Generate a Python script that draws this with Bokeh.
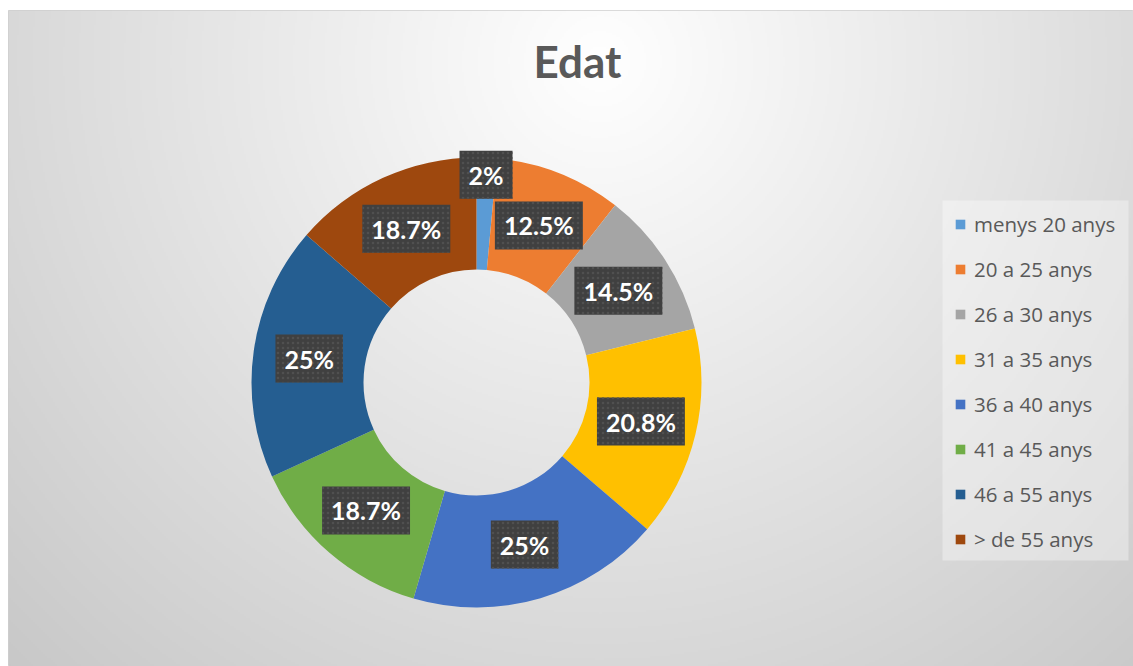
import numpy as np
from bokeh.plotting import figure
from bokeh.models import ColumnDataSource, Legend, LegendItem
from bokeh.core.properties import value
from bokeh.embed import file_html
from bokeh.resources import INLINE

# ---- data ----
categories = ["menys 20 anys", "20 a 25 anys", "26 a 30 anys", "31 a 35 anys",
              "36 a 40 anys", "41 a 45 anys", "46 a 55 anys", "> de 55 anys"]
values = [2, 12.5, 14.5, 20.8, 25, 18.7, 25, 18.7]
labels = ["2%", "12.5%", "14.5%", "20.8%", "25%", "18.7%", "25%", "18.7%"]
colors = ["#5B9BD5", "#ED7D31", "#A5A5A5", "#FFC000",
          "#4472C4", "#70AD47", "#255E91", "#9E480E"]
label_radius = [208, 169, 169, 169, 169, 169, 169, 169]

W, H = 1133, 666
LEFT, TOP = 8, 10
# data coords: x = page x, y = H - page y
cx, cy = 476, H - 382
r_in, r_out = 113, 225

vals = np.array(values, dtype=float)
frac = vals / vals.sum()
cum = np.concatenate([[0], np.cumsum(frac)]) * 2 * np.pi
start = np.pi / 2 - cum[:-1]
end = np.pi / 2 - cum[1:]
mid = (start + end) / 2
lr = np.array(label_radius, dtype=float)
lx = cx + lr * np.cos(mid)
ly = cy + lr * np.sin(mid)

src = ColumnDataSource(dict(cat=categories, start=start, end=end, color=colors,
                            lx=lx, ly=ly, lab=labels))

p = figure(width=W, height=H, x_range=(LEFT, W), y_range=(0, H - TOP),
           output_backend="svg", toolbar_location=None,
           min_border_left=LEFT, min_border_top=TOP, min_border_right=0,
           min_border_bottom=0,
           outline_line_color="#cfcfcf", background_fill_color="#e6e6e6",
           border_fill_color="white")
p.axis.visible = False
p.grid.visible = False

# background radial gradient
nx, ny = W // 2, (H - TOP) // 2
xs = np.linspace(LEFT, W, nx)
ys = np.linspace(0, H - TOP, ny)
X, Y = np.meshgrid(xs, ys)
PX = X
PY = H - Y
d = np.sqrt((PX - 600) ** 2 + (PY - 60) ** 2)
g = np.clip(255 - 0.065 * d, 0, 255).astype(np.uint32)
img = (255 << 24) | (g << 16) | (g << 8) | g
p.image_rgba(image=[img.astype(np.uint32)], x=LEFT, y=0, dw=W - LEFT, dh=H - TOP)

# legend panel background
p.quad(left=[942], right=[1128], top=[H - 200], bottom=[H - 560],
       fill_color="white", fill_alpha=0.35, line_color=None)

wr = p.annular_wedge(x=cx, y=cy, inner_radius=r_in, outer_radius=r_out,
                     start_angle="start", end_angle="end", direction="clock",
                     fill_color="color", line_color=None, source=src)

p.text(x="lx", y="ly", text="lab", source=src, text_color="white",
       text_font=value("Lato"), text_font_style="bold", text_font_size="25px",
       text_align="center", text_baseline="middle",
       background_fill_color="#404040", padding=9,
       background_hatch_pattern="dot", background_hatch_color="#505050",
       background_hatch_scale=5)

# title
p.text(x=[577], y=[H - 60], text=["Edat"], text_color="#595959",
       text_font=value("Lato"), text_font_style="bold", text_font_size="44px",
       text_align="center", text_baseline="middle")

items = [LegendItem(label=c, renderers=[wr], index=i) for i, c in enumerate(categories)]
legend = Legend(items=items, location=(954 - LEFT, H - 553), orientation="vertical",
                glyph_width=12, glyph_height=12, label_height=20, spacing=17,
                padding=11, label_standoff=8, margin=0,
                label_text_font="Open Sans", label_text_font_size="20.5px",
                label_text_color="#595959",
                background_fill_alpha=0, border_line_color=None)
p.add_layout(legend, "center")

open("out.html", "w").write(file_html(p, INLINE))
